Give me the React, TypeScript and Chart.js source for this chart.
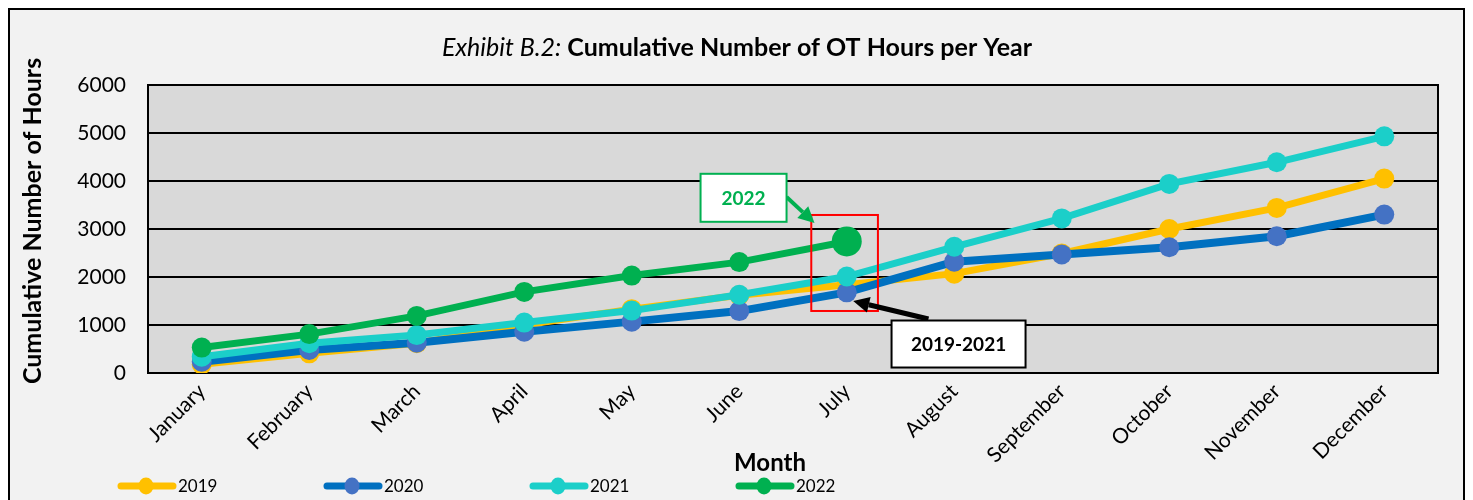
import React, { useEffect, useRef } from 'react';
import { Chart, registerables } from 'chart.js';

Chart.register(...registerables);

// ---------- data ----------
const months = [
  'January', 'February', 'March', 'April', 'May', 'June',
  'July', 'August', 'September', 'October', 'November', 'December',
];
const yTicks = [0, 1000, 2000, 3000, 4000, 5000, 6000];
const hours2019 = [180, 410, 620, 1000, 1330, 1620, 1840, 2070, 2490, 3000, 3440, 4050];
const hours2020 = [235, 480, 630, 860, 1070, 1290, 1680, 2320, 2470, 2620, 2850, 3300];
const hours2021 = [340, 620, 790, 1050, 1300, 1630, 2010, 2630, 3220, 3940, 4390, 4930];
const hours2022 = [530, 810, 1190, 1690, 2030, 2310, 2740, null, null, null, null, null];
const seriesLabels = ['2019', '2020', '2021', '2022'];

// ---------- styles ----------
const lineColors = ['#FFC000', '#0070C0', '#1BCFC9', '#00B050'];
const markerColors = ['#FFC000', '#4472C4', '#1BCFC9', '#00B050'];
const lineWidths = [7, 8, 7, 7];
const FONT = 'Lato, "Open Sans", sans-serif';

// annotations (x in category index units, y in data units)
const highlight = { x0: 5.67, x1: 6.29, y0: 1292, y1: 3292 };
const callouts = [
  { text: '2022', color: '#00B050', border: '#00B050', x: 5.04, y: 3650, w: 86, h: 48, fromX: 5.44, fromY: 3667, toX: 5.7, toY: 3125, lw: 4 },
  { text: '2019-2021', color: '#000000', border: '#000000', x: 7.04, y: 604, w: 134, h: 47, fromX: 6.76, fromY: 1125, toX: 6.06, toY: 1500, lw: 5 },
];

function drawArrow(ctx: CanvasRenderingContext2D, x1: number, y1: number, x2: number, y2: number, color: string, lw: number) {
  const ang = Math.atan2(y2 - y1, x2 - x1);
  const head = 16;
  const half = 8;
  const bx = x2 - head * Math.cos(ang);
  const by = y2 - head * Math.sin(ang);
  ctx.save();
  ctx.strokeStyle = color;
  ctx.fillStyle = color;
  ctx.lineWidth = lw;
  ctx.beginPath();
  ctx.moveTo(x1, y1);
  ctx.lineTo(bx, by);
  ctx.stroke();
  ctx.beginPath();
  ctx.moveTo(x2, y2);
  ctx.lineTo(bx + half * Math.sin(ang), by - half * Math.cos(ang));
  ctx.lineTo(bx - half * Math.sin(ang), by + half * Math.cos(ang));
  ctx.closePath();
  ctx.fill();
  ctx.restore();
}

const decor = {
  id: 'decor',
  beforeDraw(chart: any) {
    const { ctx, chartArea: a } = chart;
    ctx.save();
    ctx.fillStyle = '#F2F2F2';
    ctx.fillRect(0, 0, chart.width, chart.height);
    ctx.fillStyle = '#D9D9D9';
    ctx.fillRect(a.left, a.top, a.right - a.left, a.bottom - a.top);
    ctx.restore();
  },
  beforeDatasetsDraw(chart: any) {
    const { ctx, chartArea: a } = chart;
    ctx.save();
    ctx.strokeStyle = '#000';
    ctx.lineWidth = 2;
    ctx.strokeRect(a.left, a.top, a.right - a.left, a.bottom - a.top);
    ctx.restore();
  },
  afterDatasetsDraw(chart: any) {
    const { ctx } = chart;
    const xs = chart.scales.x;
    const ys = chart.scales.y;
    const px = (v: number) => xs.getPixelForValue(v);
    const py = (v: number) => ys.getPixelForValue(v);
    ctx.save();
    ctx.strokeStyle = '#FF0000';
    ctx.lineWidth = 2;
    ctx.strokeRect(px(highlight.x0), py(highlight.y1), px(highlight.x1) - px(highlight.x0), py(highlight.y0) - py(highlight.y1));
    callouts.forEach((c) => {
      drawArrow(ctx, px(c.fromX), py(c.fromY), px(c.toX), py(c.toY), c.color, c.lw);
      const cx = px(c.x);
      const cy = py(c.y);
      ctx.fillStyle = '#FFFFFF';
      ctx.fillRect(cx - c.w / 2, cy - c.h / 2, c.w, c.h);
      ctx.strokeStyle = c.border;
      ctx.lineWidth = 2;
      ctx.strokeRect(cx - c.w / 2, cy - c.h / 2, c.w, c.h);
      ctx.fillStyle = c.color;
      ctx.font = `bold 19px ${FONT}`;
      ctx.textAlign = 'center';
      ctx.textBaseline = 'middle';
      ctx.fillText(c.text, cx, cy + 1);
    });
    ctx.restore();
  },
  afterDraw(chart: any) {
    const { ctx, chartArea: a } = chart;
    ctx.save();
    const t1 = 'Exhibit B.2:';
    const t2 = ' Cumulative Number of OT Hours per Year';
    const tSize = 25;
    ctx.font = `italic ${tSize}px ${FONT}`;
    const w1 = ctx.measureText(t1).width;
    ctx.font = `bold ${tSize}px ${FONT}`;
    const w2 = ctx.measureText(t2).width;
    const tx = 727 - (w1 + w2) / 2;
    ctx.fillStyle = '#000';
    ctx.textBaseline = 'alphabetic';
    ctx.textAlign = 'left';
    ctx.font = `italic ${tSize}px ${FONT}`;
    ctx.fillText(t1, tx, 46);
    ctx.font = `bold ${tSize}px ${FONT}`;
    ctx.fillText(t2, tx + w1, 46);

    ctx.save();
    ctx.translate(a.left - 115, (a.top + a.bottom) / 2 - 8);
    ctx.rotate(-Math.PI / 2);
    ctx.font = `bold 25px ${FONT}`;
    ctx.textAlign = 'center';
    ctx.textBaseline = 'middle';
    ctx.fillText('Cumulative Number of Hours', 0, 0);
    ctx.restore();

    ctx.font = `bold 24px ${FONT}`;
    ctx.textAlign = 'center';
    ctx.textBaseline = 'middle';
    ctx.fillText('Month', (a.left + a.right) / 2 - 23, a.bottom + 90);

    const ly = a.bottom + 113;
    chart.data.datasets.forEach((ds: any, i: number) => {
      const lx = 108 + 206 * i;
      ctx.strokeStyle = ds.borderColor;
      ctx.lineWidth = 7;
      ctx.lineCap = 'round';
      ctx.beginPath();
      ctx.moveTo(lx + 3, ly);
      ctx.lineTo(lx + 55, ly);
      ctx.stroke();
      ctx.fillStyle = ds.pointBackgroundColor;
      ctx.beginPath();
      ctx.ellipse(lx + 28, ly, 7.5, 8.5, 0, 0, Math.PI * 2);
      ctx.fill();
      ctx.fillStyle = '#000';
      ctx.font = `17px ${FONT}`;
      ctx.textAlign = 'left';
      ctx.textBaseline = 'middle';
      ctx.fillText(ds.label, lx + 60, ly + 1);
    });
    ctx.restore();
  },
};

export default function App() {
  const ref = useRef<HTMLCanvasElement | null>(null);

  useEffect(() => {
    document.documentElement.style.overflow = 'hidden';
    if (!ref.current) return;
    const series = [hours2019, hours2020, hours2021, hours2022];
    const datasets = series.map((d, i) => ({
      label: seriesLabels[i],
      data: d,
      borderColor: lineColors[i],
      backgroundColor: markerColors[i],
      pointBackgroundColor: markerColors[i],
      pointBorderColor: markerColors[i],
      pointBorderWidth: 0,
      borderWidth: lineWidths[i],
      pointRadius: i === 3 ? d.map((v, k) => (k === 6 ? 15 : 10)) : 10,
      pointHoverRadius: 10,
      tension: 0,
      fill: false,
      spanGaps: false,
      order: 4 - i,
    }));

    const chart = new Chart(ref.current, {
      type: 'line',
      data: { labels: months, datasets },
      options: {
        responsive: false,
        animation: false,
        layout: { padding: { top: 75, right: 25, left: 0, bottom: 0 } },
        plugins: {
          legend: { display: false },
          title: { display: false },
          tooltip: { enabled: false },
        },
        scales: {
          x: {
            offset: true,
            grid: { display: false, drawTicks: false },
            border: { display: true, color: '#000', width: 2 },
            ticks: {
              color: '#000',
              font: { family: FONT, size: 21 },
              minRotation: 45,
              maxRotation: 45,
              padding: 6,
              autoSkip: false,
            },
            afterFit: (s: any) => { s.height = 127; },
          },
          y: {
            min: 0,
            max: 6000,
            grid: { color: '#000', lineWidth: 2, drawTicks: false },
            border: { display: true, color: '#000', width: 2 },
            ticks: {
              color: '#000',
              font: { family: FONT, size: 21 },
              padding: 22,
              callback: (v: any) => String(v),
            },
            afterBuildTicks: (s: any) => { s.ticks = yTicks.map((v) => ({ value: v })); },
            afterFit: (s: any) => { s.width = 138; },
          },
        },
      },
      plugins: [decor],
    });
    return () => chart.destroy();
  }, []);

  return (
    <div style={{ border: '2px solid #000', borderBottom: 'none', background: '#F2F2F2', height: 490, overflow: 'hidden' }}>
      <canvas ref={ref} width={1453} height={490} style={{ display: 'block' }} />
    </div>
  );
}
